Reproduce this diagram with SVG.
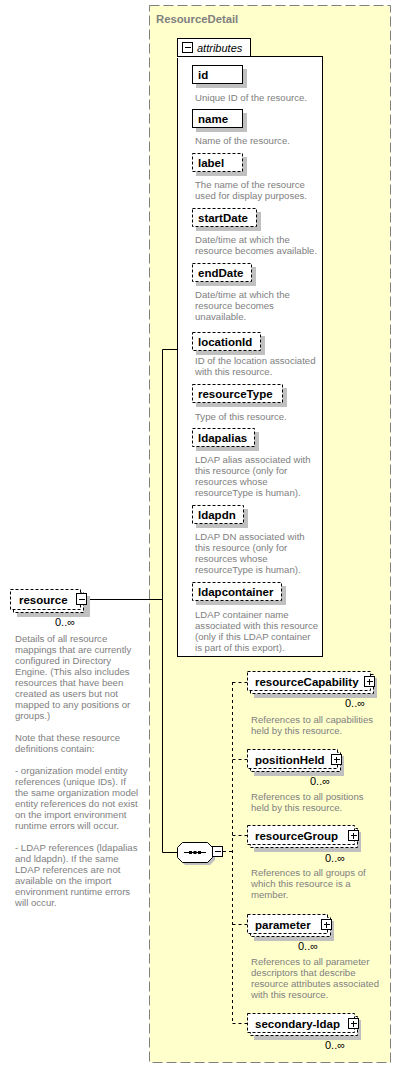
<svg xmlns="http://www.w3.org/2000/svg" width="402" height="1069" viewBox="0 0 402 1069">
<style>
text{font-family:"Liberation Sans",Arial,sans-serif}
.ttl{font-size:11.3px;font-weight:bold;fill:#808080}
.lbl{font-size:11.5px;font-weight:bold;fill:#000}
.dsc{font-size:9.6px;fill:#808080}
.occ{font-size:11px;fill:#000}
.sh{fill:#c0c0c0}
.req{fill:#fff;stroke:#000;stroke-width:1}
.opt{fill:#fff;stroke:#000;stroke-width:1;stroke-dasharray:3,2}
.ico{fill:#fff;stroke:#000;stroke-width:1}
.ln{stroke:#000;stroke-width:1;fill:none}
.dln{stroke:#000;stroke-width:1;fill:none;stroke-dasharray:3,3}
</style>
<rect width="402" height="1069" fill="#fff"/>
<g id="ResourceDetail">
<rect x="149.5" y="5.5" width="241" height="1057" fill="#ffffcc" stroke="#808080" stroke-dasharray="10,4"/>
<text class="ttl" x="156" y="23">ResourceDetail</text>
</g>
<g id="connectors">
<polyline class="ln" points="87,599.5 162.5,599.5"/>
<polyline class="ln" points="177,349.5 162.5,349.5 162.5,852.5 177,852.5"/>
<polyline class="dln" points="223,851.5 232.5,851.5"/>
<polyline class="dln" points="232.5,682 232.5,1024"/>
<polyline class="dln" points="232.5,682.5 247,682.5"/>
<polyline class="dln" points="232.5,759.5 247,759.5"/>
<polyline class="dln" points="232.5,835.5 247,835.5"/>
<polyline class="dln" points="232.5,924.5 247,924.5"/>
<polyline class="dln" points="232.5,1023.5 247,1023.5"/>
</g>
<g id="attributes">
<rect x="177.5" y="38.5" width="73" height="18" fill="#fff" stroke="#000"/>
<rect x="177.5" y="56.5" width="145" height="600" fill="#fff" stroke="#000"/>
<rect x="177" y="57" width="73" height="1" fill="#fff"/>
<rect class="ico" x="182.5" y="42.5" width="10" height="10"/>
<line class="ln" x1="185" y1="47.5" x2="191" y2="47.5"/>
<text x="197" y="52" font-size="11px" font-style="italic" fill="#000">attributes</text>
</g>
<g id="attr-id">
<rect class="sh" x="196" y="69" width="51" height="19"/>
<rect class="req" x="192.5" y="65.5" width="50" height="18"/>
<text class="lbl" x="198" y="79">id</text>
<text class="dsc" x="195" y="101">Unique ID of the resource.</text>
</g>
<g id="attr-name">
<rect class="sh" x="196" y="113" width="51" height="19"/>
<rect class="req" x="192.5" y="109.5" width="50" height="18"/>
<text class="lbl" x="198" y="123">name</text>
<text class="dsc" x="195" y="144">Name of the resource.</text>
</g>
<g id="attr-label">
<rect class="sh" x="196" y="157" width="51" height="19"/>
<rect class="opt" x="192.5" y="153.5" width="50" height="18"/>
<text class="lbl" x="198" y="167">label</text>
<text class="dsc" x="195" y="187.5">The name of the resource</text>
<text class="dsc" x="195" y="198.5">used for display purposes.</text>
</g>
<g id="attr-startDate">
<rect class="sh" x="196" y="212" width="65" height="19"/>
<rect class="opt" x="192.5" y="208.5" width="64" height="18"/>
<text class="lbl" x="198" y="222">startDate</text>
<text class="dsc" x="195" y="242.5">Date/time at which the</text>
<text class="dsc" x="195" y="253.5">resource becomes available.</text>
</g>
<g id="attr-endDate">
<rect class="sh" x="196" y="267" width="60" height="19"/>
<rect class="opt" x="192.5" y="263.5" width="59" height="18"/>
<text class="lbl" x="198" y="277">endDate</text>
<text class="dsc" x="195" y="297.5">Date/time at which the</text>
<text class="dsc" x="195" y="308.5">resource becomes</text>
<text class="dsc" x="195" y="319.5">unavailable.</text>
</g>
<g id="attr-locationId">
<rect class="sh" x="196" y="336" width="69" height="19"/>
<rect class="opt" x="192.5" y="332.5" width="68" height="18"/>
<text class="lbl" x="198" y="346">locationId</text>
<text class="dsc" x="195" y="364">ID of the location associated</text>
<text class="dsc" x="195" y="375">with this resource.</text>
</g>
<g id="attr-resourceType">
<rect class="sh" x="196" y="388" width="91" height="19"/>
<rect class="opt" x="192.5" y="384.5" width="90" height="18"/>
<text class="lbl" x="198" y="398">resourceType</text>
<text class="dsc" x="195" y="420">Type of this resource.</text>
</g>
<g id="attr-ldapalias">
<rect class="sh" x="196" y="432" width="63" height="19"/>
<rect class="opt" x="192.5" y="428.5" width="62" height="18"/>
<text class="lbl" x="198" y="442">ldapalias</text>
<text class="dsc" x="195" y="462.5">LDAP alias associated with</text>
<text class="dsc" x="195" y="473.5">this resource (only for</text>
<text class="dsc" x="195" y="484.5">resources whose</text>
<text class="dsc" x="195" y="495.5">resourceType is human).</text>
</g>
<g id="attr-ldapdn">
<rect class="sh" x="196" y="509" width="52" height="19"/>
<rect class="opt" x="192.5" y="505.5" width="51" height="18"/>
<text class="lbl" x="198" y="519">ldapdn</text>
<text class="dsc" x="195" y="540">LDAP DN associated with</text>
<text class="dsc" x="195" y="551">this resource (only for</text>
<text class="dsc" x="195" y="562">resources whose</text>
<text class="dsc" x="195" y="573">resourceType is human).</text>
</g>
<g id="attr-ldapcontainer">
<rect class="sh" x="196" y="586" width="90" height="19"/>
<rect class="opt" x="192.5" y="582.5" width="89" height="18"/>
<text class="lbl" x="198" y="596">ldapcontainer</text>
<text class="dsc" x="195" y="617.5">LDAP container name</text>
<text class="dsc" x="195" y="628.5">associated with this resource</text>
<text class="dsc" x="195" y="639.5">(only if this LDAP container</text>
<text class="dsc" x="195" y="650.5">is part of this export).</text>
</g>
<g id="resource">
<rect class="sh" x="17" y="596" width="73" height="21"/>
<rect class="opt" x="13.5" y="592.5" width="70" height="20"/>
<rect class="opt" x="10.5" y="589.5" width="70" height="20"/>
<text class="lbl" x="19" y="604">resource</text>
<rect class="ico" x="76.5" y="593.5" width="10" height="11"/>
<line class="ln" x1="79" y1="599.5" x2="85" y2="599.5"/>
<text class="occ" x="55" y="626">0..∞</text>
<text class="dsc" x="15" y="641.5">Details of all resource</text>
<text class="dsc" x="15" y="652.5">mappings that are currently</text>
<text class="dsc" x="15" y="663.5">configured in Directory</text>
<text class="dsc" x="15" y="674.5">Engine. (This also includes</text>
<text class="dsc" x="15" y="685.5">resources that have been</text>
<text class="dsc" x="15" y="696.5">created as users but not</text>
<text class="dsc" x="15" y="707.5">mapped to any positions or</text>
<text class="dsc" x="15" y="718.5">groups.)</text>
<text class="dsc" x="15" y="740.5">Note that these resource</text>
<text class="dsc" x="15" y="751.5">definitions contain:</text>
<text class="dsc" x="15" y="773.5">- organization model entity</text>
<text class="dsc" x="15" y="784.5">references (unique IDs). If</text>
<text class="dsc" x="15" y="795.5">the same organization model</text>
<text class="dsc" x="15" y="806.5">entity references do not exist</text>
<text class="dsc" x="15" y="817.5">on the import environment</text>
<text class="dsc" x="15" y="828.5">runtime errors will occur.</text>
<text class="dsc" x="15" y="850.5">-  LDAP references (ldapalias</text>
<text class="dsc" x="15" y="861.5">and ldapdn). If the same</text>
<text class="dsc" x="15" y="872.5">LDAP references are not</text>
<text class="dsc" x="15" y="883.5">available on the import</text>
<text class="dsc" x="15" y="894.5">environment runtime errors</text>
<text class="dsc" x="15" y="905.5">will occur.</text>
</g>
<g id="sequence">
<polygon class="sh" points="185,845 210,845 215,850 215,860 210,865 185,865 180,860 180,850"/>
<polygon fill="#fff" stroke="#000" points="182.5,842.5 207.5,842.5 212.5,847.5 212.5,857.5 207.5,862.5 182.5,862.5 177.5,857.5 177.5,847.5"/>
<line class="ln" x1="184" y1="852.5" x2="206" y2="852.5"/>
<rect x="189" y="851" width="3" height="3" fill="#000"/>
<rect x="193.5" y="851" width="3" height="3" fill="#000"/>
<rect x="198" y="851" width="3" height="3" fill="#000"/>
<rect class="ico" x="212.5" y="846.5" width="10" height="10"/>
<line class="ln" x1="215" y1="851.5" x2="221" y2="851.5"/>
</g>
<g id="resourceCapability">
<rect class="sh" x="254" y="678" width="123" height="20"/>
<rect class="opt" x="250.5" y="674.5" width="123" height="19"/>
<rect class="opt" x="247.5" y="671.5" width="123" height="19"/>
<text class="lbl" x="255" y="686">resourceCapability</text>
<rect class="ico" x="364.5" y="676.5" width="10" height="10"/>
<line class="ln" x1="367" y1="681.5" x2="373" y2="681.5"/>
<line class="ln" x1="369.5" y1="679" x2="369.5" y2="685"/>
<text class="occ" x="345" y="707">0..∞</text>
<text class="dsc" x="251" y="723">References to all capabilities</text>
<text class="dsc" x="251" y="734">held by this resource.</text>
</g>
<g id="positionHeld">
<rect class="sh" x="254" y="756" width="90" height="20"/>
<rect class="opt" x="250.5" y="752.5" width="90" height="19"/>
<rect class="opt" x="247.5" y="749.5" width="90" height="19"/>
<text class="lbl" x="255" y="764">positionHeld</text>
<rect class="ico" x="331.5" y="754.5" width="10" height="10"/>
<line class="ln" x1="334" y1="759.5" x2="340" y2="759.5"/>
<line class="ln" x1="336.5" y1="757" x2="336.5" y2="763"/>
<text class="occ" x="310" y="785">0..∞</text>
<text class="dsc" x="251" y="800">References to all positions</text>
<text class="dsc" x="251" y="811">held by this resource.</text>
</g>
<g id="resourceGroup">
<rect class="sh" x="254" y="832" width="107" height="20"/>
<rect class="opt" x="250.5" y="828.5" width="107" height="19"/>
<rect class="opt" x="247.5" y="825.5" width="107" height="19"/>
<text class="lbl" x="255" y="840">resourceGroup</text>
<rect class="ico" x="348.5" y="830.5" width="10" height="10"/>
<line class="ln" x1="351" y1="835.5" x2="357" y2="835.5"/>
<line class="ln" x1="353.5" y1="833" x2="353.5" y2="839"/>
<text class="occ" x="325" y="862">0..∞</text>
<text class="dsc" x="251" y="876">References to all groups of</text>
<text class="dsc" x="251" y="887">which this resource is a</text>
<text class="dsc" x="251" y="898">member.</text>
</g>
<g id="parameter">
<rect class="sh" x="254" y="921" width="80" height="20"/>
<rect class="opt" x="250.5" y="917.5" width="80" height="19"/>
<rect class="opt" x="247.5" y="914.5" width="80" height="19"/>
<text class="lbl" x="255" y="929">parameter</text>
<rect class="ico" x="321.5" y="919.5" width="10" height="10"/>
<line class="ln" x1="324" y1="924.5" x2="330" y2="924.5"/>
<line class="ln" x1="326.5" y1="922" x2="326.5" y2="928"/>
<text class="occ" x="298" y="950">0..∞</text>
<text class="dsc" x="251" y="965">References to all parameter</text>
<text class="dsc" x="251" y="976">descriptors that describe</text>
<text class="dsc" x="251" y="987">resource attributes associated</text>
<text class="dsc" x="251" y="998">with this resource.</text>
</g>
<g id="secondary-ldap">
<rect class="sh" x="254" y="1020" width="107" height="20"/>
<rect class="opt" x="250.5" y="1016.5" width="107" height="19"/>
<rect class="opt" x="247.5" y="1013.5" width="107" height="19"/>
<text class="lbl" x="255" y="1028">secondary-ldap</text>
<rect class="ico" x="348.5" y="1018.5" width="10" height="10"/>
<line class="ln" x1="351" y1="1023.5" x2="357" y2="1023.5"/>
<line class="ln" x1="353.5" y1="1021" x2="353.5" y2="1027"/>
<text class="occ" x="325" y="1049">0..∞</text>
</g>
</svg>
